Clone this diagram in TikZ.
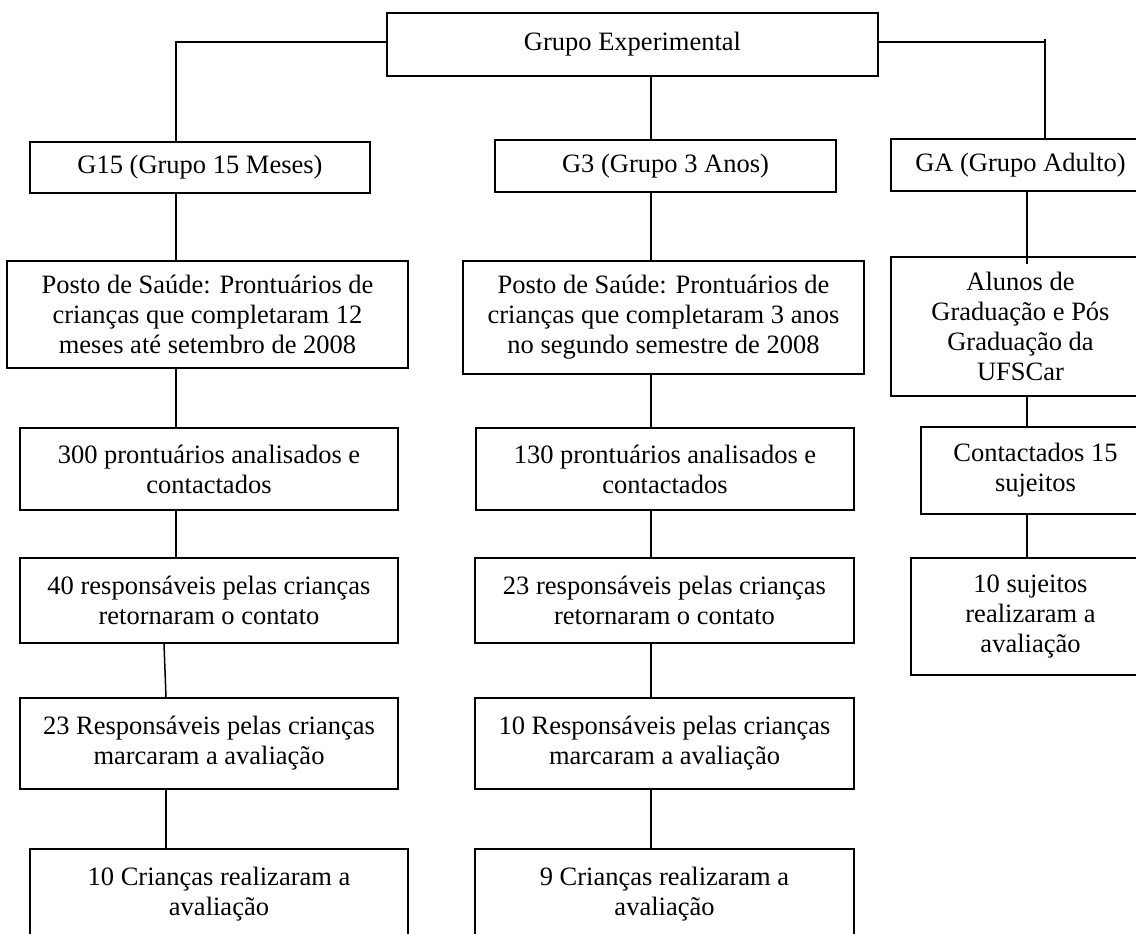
\documentclass[tikz,border=0pt]{standalone}
\usepackage{fontspec}
\setmainfont{Liberation Serif}
\begin{document}
\begin{tikzpicture}[x=1pt,y=-1pt,
  box/.style={draw, line width=1.5pt, inner sep=0pt, align=center, font=\fontsize{26.5}{30}\selectfont},
  conn/.style={line width=1.5pt}]
\useasboundingbox (0,0) rectangle (1136,934);
\clip (0,0) rectangle (1136,934);
% level 0
\node[box, minimum width=491pt, minimum height=63pt] (top) at (632.5,44.5) {Grupo Experimental};
% level 1
\node[box, minimum width=340pt, minimum height=51pt] (g15) at (200,167.5) {G15 (Grupo 15 Meses)};
\node[box, minimum width=341pt, minimum height=52pt] (g3) at (665.5,166) {G3 (Grupo 3 Anos)};
\node[box, minimum width=259pt, minimum height=52pt] (ga) at (1020.5,165) {GA (Grupo Adulto)};
% level 2
\node[box, minimum width=401pt, minimum height=107pt] (p15) at (207.5,314.5) {Posto de Saúde: Prontuários de\\crianças que completaram 12\\meses até setembro de 2008};
\node[box, minimum width=401pt, minimum height=113pt] (p3) at (663.5,317.5) {Posto de Saúde: Prontuários de\\crianças que completaram 3 anos\\no segundo semestre de 2008};
\node[box, minimum width=259pt, minimum height=139pt] (al) at (1020.5,326.5) {Alunos de\\Graduação e Pós\\Graduação da\\UFSCar};
% level 3
\node[box, minimum width=378pt, minimum height=82pt] (a15) at (209,469) {300 prontuários analisados e\\contactados};
\node[box, minimum width=378pt, minimum height=82pt] (a3) at (665,469) {130 prontuários analisados e\\contactados};
\node[box, minimum width=229pt, minimum height=87pt] (c) at (1035.5,470.5) {Contactados 15\\sujeitos};
% level 4
\node[box, minimum width=378pt, minimum height=85pt] (r15) at (209,600.5) {40 responsáveis pelas crianças\\retornaram o contato};
\node[box, minimum width=379pt, minimum height=85pt] (r3) at (664.5,600.5) {23 responsáveis pelas crianças\\retornaram o contato};
\node[box, minimum width=239pt, minimum height=117pt] (s) at (1030.5,616.5) {10 sujeitos\\realizaram a\\avaliação};
% level 5
\node[box, minimum width=378pt, minimum height=91pt] (m15) at (209,743.5) {23 Responsáveis pelas crianças\\marcaram a avaliação};
\node[box, minimum width=379pt, minimum height=91pt] (m3) at (664.5,743.5) {10 Responsáveis pelas crianças\\marcaram a avaliação};
% level 6
\node[box, minimum width=378pt, minimum height=91pt] (f15) at (219,894.5) {10 Crianças realizaram a\\avaliação};
\node[box, minimum width=379pt, minimum height=91pt] (f3) at (664.5,894.5) {9 Crianças realizaram a\\avaliação};
% connector guides
\coordinate (xl) at (176,42);
\coordinate (xr) at (1045,42);
\coordinate (xc) at (651,0);
\coordinate (xa) at (1027,0);
\coordinate (xs1) at (164,0);
\coordinate (xs2) at (166,0);
% connectors from the top box
\draw[conn] (top.west |- xl) -- (xl) -- (xl |- g15.north);
\draw[conn] (top.east |- xr) -- (xr);
\draw[conn] ([yshift=3pt]xr) -- (xr |- ga.north);
\draw[conn] (top.south -| xc) -- (g3.north -| xc);
% G15 column
\draw[conn] (g15.south -| xl) -- (p15.north -| xl);
\draw[conn] (p15.south -| xl) -- (a15.north -| xl);
\draw[conn] (a15.south -| xl) -- (r15.north -| xl);
\draw[conn] (r15.south -| xs1) -- (m15.north -| xs2);
\draw[conn] (m15.south -| xs2) -- (f15.north -| xs2);
% G3 column
\draw[conn] (g3.south -| xc) -- (p3.north -| xc);
\draw[conn] (p3.south -| xc) -- (a3.north -| xc);
\draw[conn] (a3.south -| xc) -- (r3.north -| xc);
\draw[conn] (r3.south -| xc) -- (m3.north -| xc);
\draw[conn] (m3.south -| xc) -- (f3.north -| xc);
% GA column
\draw[conn] (ga.south -| xa) -- ([yshift=-8pt]al.north -| xa);
\draw[conn] (al.south -| xa) -- (c.north -| xa);
\draw[conn] (c.south -| xa) -- (s.north -| xa);
\end{tikzpicture}
\end{document}
